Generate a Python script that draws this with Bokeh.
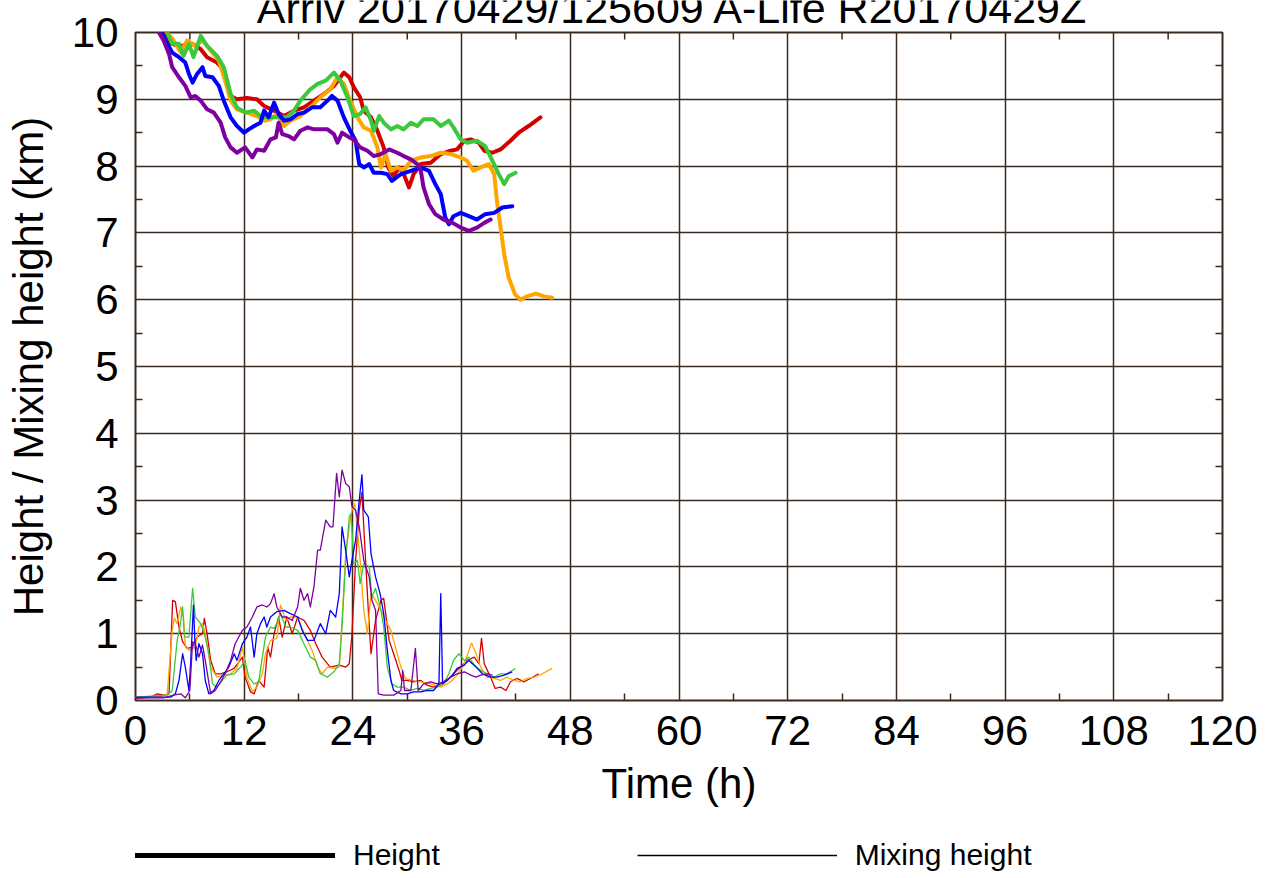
from bokeh.plotting import figure
from bokeh.layouts import column
from bokeh.models import (FixedTicker, LinearAxis, Legend, LegendItem, Label, Range1d)
from bokeh.embed import file_html
from bokeh.resources import INLINE

# ---------------- data ----------------
title_text = "Arriv 20170429/125609 A-Life R20170429Z"
x_label = "Time (h)"
y_label = "Height / Mixing height (km)"
legend_labels = ["Height", "Mixing height"]
x_ticks = [0, 12, 24, 36, 48, 60, 72, 84, 96, 108, 120]
y_ticks = [0, 1, 2, 3, 4, 5, 6, 7, 8, 9, 10]

# trajectory heights (km) vs time (h)
red_t = [0, 3.1, 3.9, 5.0, 6.3, 7.2, 7.9, 9.0, 9.8, 10.5, 11.2, 12.3, 13.4, 14.2, 15.3, 16.4, 17.5, 18.6, 19.7, 20.8, 21.9, 23.0, 23.6, 24.1, 24.8, 25.2, 26.0, 26.7, 27.4, 27.9, 28.5, 29.1, 29.6, 30.2, 30.7, 31.5, 32.6, 33.7, 34.8, 35.5, 36.3, 37.0, 37.9, 38.5, 39.4, 40.3, 41.4, 42.3, 43.4, 44.7]
red_h = [10.9, 10.0, 9.83, 9.8, 9.83, 9.75, 9.63, 9.55, 9.43, 9.05, 9.0, 9.02, 9.0, 8.9, 8.83, 8.75, 8.83, 8.88, 8.98, 9.08, 9.2, 9.4, 9.33, 9.18, 9.03, 8.83, 8.73, 8.53, 8.28, 7.98, 7.85, 7.98, 7.88, 7.68, 7.88, 8.03, 8.05, 8.18, 8.23, 8.25, 8.38, 8.4, 8.35, 8.23, 8.2, 8.25, 8.38, 8.5, 8.6, 8.73]

orange_t = [0, 3.5, 4.2, 5.0, 5.7, 6.6, 7.4, 8.3, 9.2, 9.9, 10.5, 11.2, 12.3, 13.4, 14.2, 14.9, 15.6, 16.4, 17.1, 18.2, 19.3, 20.4, 21.5, 22.3, 23.0, 23.7, 24.5, 25.2, 26.0, 26.7, 27.1, 27.6, 28.2, 28.9, 29.6, 30.4, 31.5, 32.6, 33.7, 34.8, 35.9, 36.6, 37.3, 38.1, 39.0, 39.6, 39.9, 40.3, 40.7, 41.2, 41.9, 42.5, 43.2, 44.2, 45.1, 46.0]
orange_h = [10.9, 10.0, 9.88, 9.7, 9.88, 9.8, 9.88, 9.73, 9.58, 9.28, 8.98, 8.85, 8.8, 8.75, 8.68, 8.7, 8.78, 8.6, 8.68, 8.75, 8.88, 9.03, 9.15, 9.33, 9.23, 8.98, 8.73, 8.58, 8.53, 8.28, 7.98, 8.18, 7.93, 7.98, 7.93, 8.08, 8.13, 8.15, 8.2, 8.18, 8.13, 8.08, 7.93, 7.98, 8.03, 7.88, 7.48, 7.08, 6.68, 6.33, 6.08, 6.0, 6.05, 6.09, 6.05, 6.03]

green_t = [0, 3.5, 4.05, 4.8, 5.3, 5.9, 6.4, 7.2, 7.9, 9.0, 9.75, 10.5, 11.2, 12.1, 13.1, 13.8, 14.5, 15.6, 16.7, 17.5, 18.2, 19.3, 20.1, 21.0, 21.9, 22.6, 23.4, 24.1, 24.8, 25.4, 26.0, 26.3, 26.9, 27.4, 28.2, 28.9, 29.6, 30.4, 31.1, 31.8, 32.9, 33.7, 34.6, 35.1, 35.9, 36.6, 37.7, 38.6, 39.4, 40.1, 40.7, 41.2, 41.96]
green_h = [10.9, 10.0, 9.83, 9.83, 9.65, 9.83, 9.63, 9.95, 9.8, 9.65, 9.48, 9.08, 8.88, 8.8, 8.83, 8.75, 8.73, 8.73, 8.73, 8.83, 8.98, 9.15, 9.23, 9.28, 9.4, 9.28, 9.03, 8.75, 8.78, 8.88, 8.68, 8.53, 8.75, 8.65, 8.55, 8.6, 8.55, 8.65, 8.6, 8.7, 8.7, 8.6, 8.68, 8.58, 8.4, 8.35, 8.38, 8.3, 8.08, 7.88, 7.73, 7.85, 7.9]

blue_t = [0, 2.9, 3.5, 4.05, 4.8, 5.5, 5.9, 6.3, 6.8, 7.4, 7.7, 8.5, 9.2, 9.75, 10.5, 11.2, 12.0, 12.5, 13.1, 13.8, 14.2, 14.7, 15.3, 15.8, 16.4, 17.1, 17.9, 18.6, 19.5, 20.4, 21.2, 21.7, 22.3, 23.0, 23.7, 24.3, 24.7, 25.2, 25.8, 26.3, 27.1, 27.8, 28.3, 29.3, 30.4, 31.5, 32.4, 33.1, 33.7, 34.2, 34.6, 35.1, 35.9, 36.8, 37.7, 38.6, 39.6, 40.5, 41.6]
blue_h = [10.9, 10.0, 9.83, 9.7, 9.63, 9.55, 9.38, 9.25, 9.38, 9.48, 9.35, 9.33, 9.2, 8.98, 8.73, 8.6, 8.5, 8.55, 8.6, 8.65, 8.83, 8.73, 8.95, 8.78, 8.68, 8.7, 8.78, 8.8, 8.88, 8.88, 8.98, 9.05, 8.98, 8.73, 8.53, 8.38, 8.03, 7.98, 8.03, 7.9, 7.9, 7.88, 7.78, 7.88, 7.93, 7.98, 7.93, 7.73, 7.58, 7.23, 7.13, 7.25, 7.3, 7.25, 7.2, 7.28, 7.3, 7.38, 7.4]

purple_t = [0, 2.6, 3.1, 3.7, 4.05, 4.8, 5.5, 6.1, 6.6, 7.2, 7.9, 8.65, 9.4, 9.9, 10.5, 11.2, 12.1, 12.9, 13.4, 14.2, 14.9, 15.5, 15.8, 16.2, 16.9, 17.5, 18.2, 19.0, 19.7, 20.4, 21.2, 21.9, 22.3, 22.8, 23.6, 24.1, 24.8, 25.6, 26.3, 27.1, 28.0, 28.9, 29.6, 30.4, 31.1, 31.5, 31.8, 32.4, 33.1, 34.0, 35.0, 35.9, 36.8, 37.7, 38.5, 39.2]
purple_h = [10.9, 10.0, 9.88, 9.68, 9.48, 9.33, 9.2, 9.03, 9.05, 8.98, 8.85, 8.8, 8.65, 8.43, 8.28, 8.2, 8.28, 8.13, 8.25, 8.23, 8.4, 8.43, 8.65, 8.48, 8.45, 8.4, 8.53, 8.58, 8.55, 8.55, 8.55, 8.48, 8.35, 8.5, 8.43, 8.4, 8.28, 8.23, 8.15, 8.18, 8.25, 8.2, 8.15, 8.1, 8.03, 7.93, 7.68, 7.43, 7.28, 7.2, 7.15, 7.08, 7.03, 7.08, 7.15, 7.2]

# mixing heights (km) vs time (h)
red_mt = [0, 1.7, 2.4, 3.1, 3.7, 4.1, 4.4, 4.8, 5.2, 5.7, 6.3, 6.8, 7.4, 7.6, 7.9, 8.3, 8.8, 9.4, 10.1, 10.9, 11.8, 12.1, 12.7, 13.1, 13.6, 14.2, 14.6, 14.9, 15.3, 15.8, 16.2, 16.7, 17.3, 17.9, 18.6, 19.3, 19.9, 20.6, 21.5, 22.5, 23.2, 23.6, 23.9, 24.3, 24.7, 25.0, 25.2, 25.7, 26.0, 26.5, 27.1, 27.4, 28.0, 28.5, 29.1, 29.4, 30.0, 30.7, 31.5, 32.2, 32.9, 33.7, 34.4, 35.1, 35.9, 36.6, 37.4, 37.9, 38.2, 38.5, 39.2, 39.7, 40.3, 40.9, 41.4, 42.1, 42.9, 43.6, 44.5]
red_mh = [0.03, 0.05, 0.1, 0.08, 0.1, 1.5, 1.48, 1.1, 0.88, 0.78, 0.8, 0.95, 1.0, 1.23, 1.0, 0.6, 0.4, 0.4, 0.43, 0.48, 0.65, 0.35, 0.13, 0.1, 0.3, 0.2, 0.8, 0.65, 1.0, 1.25, 0.95, 1.25, 1.0, 1.25, 1.2, 1.05, 0.85, 0.65, 0.5, 0.53, 0.5, 0.55, 1.0, 2.1, 2.85, 3.12, 2.6, 1.35, 0.7, 1.2, 1.5, 1.53, 0.9, 0.7, 0.45, 0.3, 0.3, 0.28, 0.3, 0.23, 0.2, 0.25, 0.3, 0.4, 0.5, 0.6, 0.65, 0.55, 0.93, 0.55, 0.35, 0.18, 0.2, 0.15, 0.28, 0.33, 0.28, 0.33, 0.4]

orange_mt = [0, 2.8, 3.5, 4.05, 4.3, 4.6, 5.0, 5.3, 5.5, 6.0, 6.6, 7.0, 7.4, 7.7, 8.3, 9.0, 9.75, 10.5, 11.2, 11.8, 12.3, 12.9, 13.4, 14.0, 14.35, 14.9, 15.6, 16.0, 16.6, 17.1, 17.7, 18.2, 18.8, 19.5, 20.1, 20.6, 21.2, 21.9, 22.5, 22.8, 23.2, 23.6, 23.9, 24.2, 24.5, 24.8, 25.2, 25.6, 26.0, 26.5, 27.1, 27.6, 28.2, 28.7, 29.3, 29.8, 30.5, 31.5, 32.6, 33.7, 34.8, 35.5, 36.3, 36.8, 37.1, 37.6, 38.1, 38.8, 39.6, 40.3, 41.0, 41.8, 42.5, 43.2, 44.0, 44.9, 46.0]
orange_mh = [0.05, 0.06, 0.1, 1.05, 1.23, 1.15, 1.4, 1.25, 0.8, 0.75, 0.8, 1.1, 1.15, 1.0, 0.5, 0.35, 0.38, 0.4, 0.48, 0.8, 0.35, 0.13, 0.2, 0.4, 0.7, 0.9, 0.93, 1.43, 1.2, 1.25, 1.25, 1.15, 0.95, 0.75, 0.5, 0.4, 0.5, 0.48, 0.5, 1.2, 2.2, 2.6, 2.85, 2.95, 2.55, 2.1, 1.35, 1.0, 1.6, 1.5, 1.35, 1.2, 1.05, 0.8, 0.5, 0.33, 0.3, 0.28, 0.25, 0.2, 0.28, 0.38, 0.55, 0.75, 0.86, 0.7, 0.5, 0.35, 0.33, 0.3, 0.35, 0.3, 0.28, 0.33, 0.35, 0.4, 0.48]

green_mt = [0, 3.5, 4.05, 4.6, 4.9, 5.2, 5.4, 5.9, 6.3, 6.6, 7.2, 7.6, 8.1, 8.5, 9.0, 9.6, 10.1, 10.9, 11.6, 12.1, 12.5, 13.1, 13.6, 14.0, 14.35, 14.9, 15.3, 15.6, 16.0, 16.6, 17.1, 17.9, 18.6, 19.3, 19.9, 20.4, 21.2, 21.9, 22.5, 22.8, 23.2, 23.6, 23.8, 24.1, 24.5, 24.8, 25.2, 25.8, 26.1, 26.5, 27.1, 27.4, 27.8, 28.3, 28.9, 29.6, 30.4, 31.1, 31.8, 32.6, 33.3, 34.0, 34.6, 35.1, 35.7, 36.3, 36.8, 37.4, 38.1, 38.8, 39.6, 40.3, 41.0, 41.96]
green_mh = [0.05, 0.08, 0.15, 0.9, 1.1, 1.4, 0.95, 0.95, 1.68, 1.25, 1.15, 1.0, 0.7, 0.25, 0.2, 0.3, 0.38, 0.4, 0.5, 0.6, 0.35, 0.25, 0.28, 0.65, 0.95, 1.1, 1.08, 1.15, 1.3, 1.1, 1.1, 1.05, 0.85, 0.65, 0.6, 0.4, 0.35, 0.43, 0.55, 1.1, 2.1, 2.75, 2.8, 2.05, 2.1, 1.75, 2.05, 2.0, 1.55, 1.68, 1.35, 1.1, 0.5, 0.25, 0.2, 0.2, 0.15, 0.18, 0.15, 0.18, 0.2, 0.25, 0.4, 0.6, 0.7, 0.6, 0.65, 0.53, 0.45, 0.4, 0.35, 0.4, 0.4, 0.48]

blue_mt = [0, 3.9, 4.4, 4.8, 5.2, 5.5, 5.9, 6.1, 6.4, 6.55, 6.7, 7.0, 7.4, 7.7, 8.1, 8.65, 9.2, 9.75, 10.3, 10.9, 11.2, 11.8, 12.3, 12.7, 13.1, 13.4, 13.8, 14.2, 14.5, 14.9, 15.6, 16.4, 17.1, 17.9, 18.4, 19.0, 19.7, 20.4, 21.0, 21.5, 22.1, 22.5, 22.8, 23.2, 23.6, 23.9, 24.3, 24.7, 25.0, 25.2, 25.7, 26.0, 26.5, 27.0, 27.4, 27.8, 28.2, 28.5, 29.3, 30.0, 30.7, 31.5, 32.2, 32.9, 33.5, 33.7, 33.9, 34.4, 35.0, 35.5, 36.3, 36.8, 37.6, 38.3, 39.2, 39.9, 40.7, 41.6]
blue_mh = [0.05, 0.05, 0.1, 0.3, 0.7, 0.5, 0.15, 0.6, 1.43, 0.9, 0.6, 0.85, 0.7, 0.3, 0.1, 0.15, 0.3, 0.4, 0.5, 0.7, 0.6, 0.85, 0.95, 1.1, 0.65, 1.0, 1.15, 1.25, 1.1, 1.25, 1.33, 1.35, 1.3, 1.25, 1.05, 0.9, 0.9, 1.15, 1.0, 1.35, 1.25, 1.6, 2.6, 2.25, 1.85, 2.1, 2.4, 3.0, 3.38, 2.85, 2.75, 2.2, 1.85, 1.6, 1.3, 0.75, 0.3, 0.15, 0.1, 0.1, 0.13, 0.13, 0.15, 0.15, 0.25, 1.6, 0.25, 0.3, 0.38, 0.48, 0.53, 0.6, 0.5, 0.4, 0.35, 0.35, 0.38, 0.43]

purple_mt = [0, 3.1, 4.2, 5.0, 5.5, 6.0, 6.3, 6.6, 7.0, 7.4, 7.7, 8.3, 8.8, 9.4, 9.9, 10.5, 11.0, 11.4, 11.8, 12.3, 12.9, 13.4, 14.0, 14.5, 14.9, 15.3, 15.6, 16.2, 16.7, 17.3, 17.9, 18.2, 18.6, 19.0, 19.3, 19.7, 20.1, 20.4, 21.0, 21.5, 21.8, 22.2, 22.5, 22.8, 23.2, 23.6, 23.9, 24.3, 24.7, 25.2, 25.8, 26.1, 26.5, 26.8, 27.4, 28.5, 29.3, 29.5, 29.7, 30.4, 30.9, 31.2, 31.8, 32.6, 33.3, 34.0, 34.8, 35.5, 36.3, 37.0, 37.6, 38.1, 38.8, 39.4]
purple_mh = [0.04, 0.04, 0.08, 0.1, 0.04, 0.15, 0.88, 0.85, 0.65, 0.83, 0.6, 0.1, 0.15, 0.28, 0.4, 0.6, 0.85, 0.95, 1.05, 1.1, 1.25, 1.4, 1.43, 1.4, 1.45, 1.6, 1.4, 1.25, 1.25, 1.2, 1.4, 1.68, 1.5, 1.6, 1.4, 1.7, 2.25, 2.25, 2.7, 2.6, 2.6, 3.4, 3.05, 3.45, 3.25, 3.2, 2.9, 2.85, 2.6, 2.1, 1.85, 1.5, 1.35, 0.1, 0.08, 0.08, 0.15, 0.45, 0.15, 0.15, 0.78, 0.15, 0.25, 0.28, 0.25, 0.28, 0.35, 0.4, 0.43, 0.38, 0.35, 0.38, 0.4, 0.38]

series = [
    ("#d40000", red_t, red_h, red_mt, red_mh),
    ("#ffa500", orange_t, orange_h, orange_mt, orange_mh),
    ("#3cc83c", green_t, green_h, green_mt, green_mh),
    ("#0000ff", blue_t, blue_h, blue_mt, blue_mh),
    ("#7f00a0", purple_t, purple_h, purple_mt, purple_mh),
]

# ---------------- styling ----------------
FONT = "Liberation Sans"
FRAME = "#3a2a20"
W = 1277
x_minor = [t + 6 for t in x_ticks[:-1]]
y_minor = [v + 0.5 for v in y_ticks[:-1]]

# ---- title strip: the title runs off the top edge, as in the reference ----
tfig = figure(width=W, height=24, output_backend="svg", toolbar_location=None,
              x_range=Range1d(0, 120), y_range=Range1d(0, 24),
              min_border=0, min_border_left=135, min_border_right=55,
              min_border_top=0, min_border_bottom=0,
              background_fill_color="white", border_fill_color="white")
tfig.axis.visible = False
tfig.grid.visible = False
tfig.outline_line_color = None
tfig.add_layout(Label(x=59.3, y=16.5, text=title_text,
                      text_align="center", text_baseline="middle",
                      text_font=FONT, text_font_size="43px", text_color="black"))

# ---- main chart (overlaps the title strip by 16 px with a transparent border,
#      so that the "10" tick label is not cut) ----
p = figure(width=W, height=812,
           x_range=Range1d(0, 120), y_range=Range1d(0, 10),
           output_backend="svg", toolbar_location=None,
           min_border_left=135, min_border_right=55,
           min_border_top=24, min_border_bottom=120,
           background_fill_color="white", border_fill_color=None,
           margin=(-16, 0, 0, 0))

p.outline_line_color = FRAME
p.outline_line_width = 2

x_ticker = FixedTicker(ticks=x_ticks, minor_ticks=x_minor)
y_ticker = FixedTicker(ticks=y_ticks, minor_ticks=y_minor)

p.xaxis[0].ticker = x_ticker
p.yaxis[0].ticker = y_ticker
p.xgrid.ticker = x_ticker
p.ygrid.ticker = y_ticker
for g in (p.xgrid[0], p.ygrid[0]):
    g.grid_line_color = FRAME
    g.grid_line_width = 1.5
    g.grid_line_alpha = 1.0

def style_axis(ax, show_labels=True):
    ax.axis_line_color = None
    ax.major_tick_in = 0
    ax.major_tick_out = 0
    ax.minor_tick_in = 7
    ax.minor_tick_out = 0
    ax.minor_tick_line_color = FRAME
    ax.minor_tick_line_width = 1.5
    if show_labels:
        ax.major_label_text_font = FONT
        ax.major_label_text_font_size = "42px"
        ax.major_label_text_color = "black"
        ax.axis_label_text_font = FONT
        ax.axis_label_text_font_size = "42px"
        ax.axis_label_text_font_style = "normal"
        ax.axis_label_text_color = "black"
    else:
        ax.major_label_text_font_size = "1px"
        ax.major_label_text_color = None
        ax.major_label_standoff = 0

xa = p.xaxis[0]
style_axis(xa)
xa.axis_label = x_label
xa.major_label_standoff = 15
xa.axis_label_standoff = 12

ya = p.yaxis[0]
style_axis(ya)
ya.axis_label = y_label
ya.major_label_standoff = 17
ya.axis_label_standoff = 17

right_ax = LinearAxis(ticker=y_ticker)
style_axis(right_ax, show_labels=False)
p.add_layout(right_ax, "right")

# minor tick marks along the top edge (7 px long, pointing inward)
tick_len = 7 / 66.8
p.segment(x0=x_minor, y0=[10] * len(x_minor), x1=x_minor,
          y1=[10 - tick_len] * len(x_minor), line_color=FRAME, line_width=1.5)

# ---------------- lines ----------------
for color, t, h, mt, mh in series:
    p.line(mt, mh, line_color=color, line_width=1.3, line_join="round")
for color, t, h, mt, mh in series:
    p.line(t, h, line_color=color, line_width=4, line_join="round", line_cap="round")

# ---------------- legend strip below the chart ----------------
leg = figure(width=W, height=58, output_backend="svg", toolbar_location=None,
             x_range=Range1d(0, 1), y_range=Range1d(0, 1),
             min_border=0, min_border_left=0, min_border_right=0,
             min_border_top=0, min_border_bottom=0,
             background_fill_color="white", border_fill_color="white")
leg.axis.visible = False
leg.grid.visible = False
leg.outline_line_color = None
# sample renderers for the key only; their single point draws nothing visible
r_height = leg.line([-1], [-1], line_color="black", line_width=5, line_cap="round")
r_mix = leg.line([-1], [-1], line_color="black", line_width=1.5)
legend = Legend(items=[LegendItem(label=legend_labels[0], renderers=[r_height]),
                       LegendItem(label=legend_labels[1], renderers=[r_mix])],
                orientation="horizontal", location=(0, 6),
                padding=0, margin=0, spacing=197,
                glyph_width=200, glyph_height=30, label_height=30,
                label_standoff=18,
                label_text_font=FONT, label_text_font_size="30px",
                label_text_color="black",
                background_fill_alpha=0, border_line_alpha=0)
leg.add_layout(legend, "center")

layout = column(tfig, p, leg, spacing=0)

open("out.html", "w").write(file_html(layout, INLINE))
